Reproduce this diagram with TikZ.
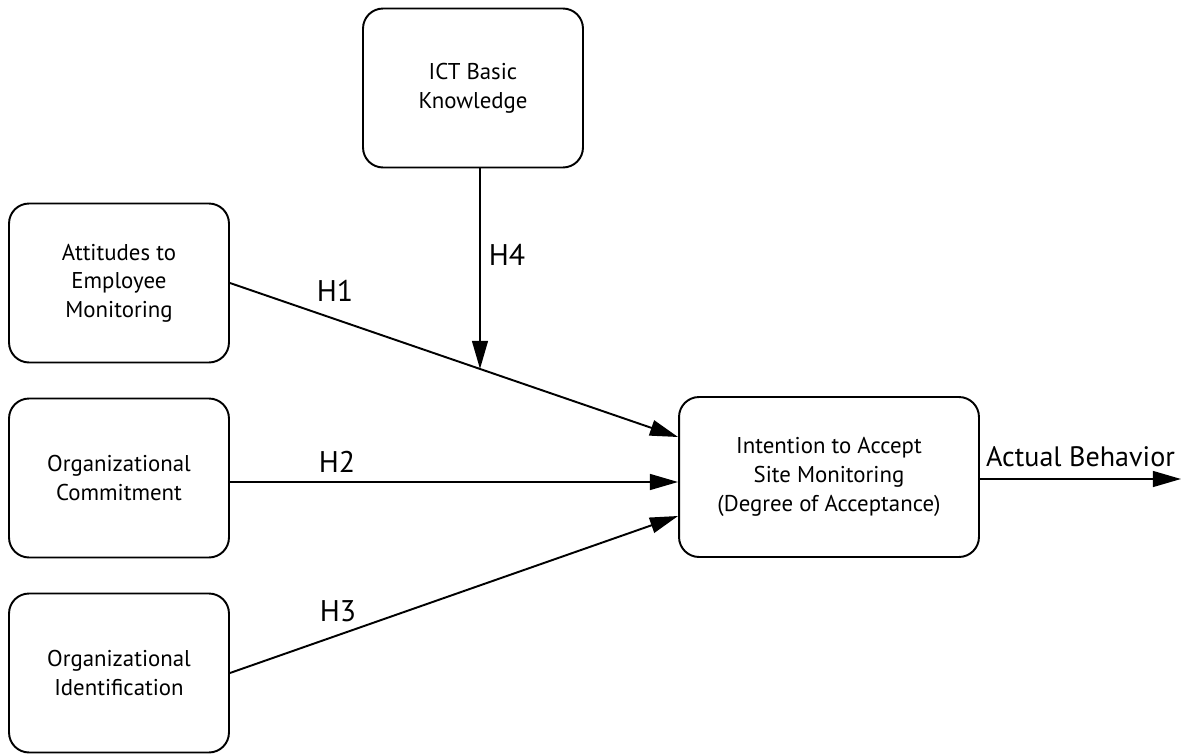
\documentclass[tikz,border=0pt]{standalone}
\usepackage{fontspec}
\setmainfont{PT Sans}
\usepackage{tikz}
\usetikzlibrary{arrows.meta, positioning}

\begin{document}
\begin{tikzpicture}[
    x=0.02cm, y=-0.02cm,
    construct/.style = {rectangle, rounded corners=0.4cm, draw=black, line width=1.1pt,
                        minimum width=4.4cm, minimum height=3.18cm, align=center,
                        font=\fontsize{13}{16.3}\selectfont},
    outcome/.style   = {construct, minimum width=6cm, minimum height=3.2cm},
    hyp/.style       = {font=\fontsize{17}{20}\selectfont},
    arr/.style       = {-{Triangle[length=16pt, width=9pt]}, line width=1.1pt}
  ]

  \useasboundingbox (0,0) rectangle (1181,754);

  % ── Constructs ─────────────────────────────────────────────────────────────
  \node[construct] (ict)    at (473,  88) {ICT Basic\\Knowledge};
  \node[construct] (attit)  at (119, 283) {Attitudes to\\Employee\\Monitoring};
  \node[construct] (commit) at (119, 478) {Organizational\\Commitment};
  \node[construct] (ident)  at (119, 673) {Organizational\\Identification};
  \node[outcome]   (intent) at (829, 477) {Intention to Accept\\Site Monitoring\\(Degree of Acceptance)};

  \coordinate (behav) at (1181, 479);

  % ── Hypothesis arrows ──────────────────────────────────────────────────────
  \draw[arr] (attit.east) -- coordinate[pos=0.558] (modpt) ([yshift=0.8cm]intent.west);
  \draw[arr] ([yshift=-0.08cm]commit.east) -- ([yshift=-0.08cm]commit.east -| intent.west);
  \draw[arr] (ident.east) -- ([yshift=-0.78cm]intent.west);
  \draw[arr] (ict.south -| modpt) -- (modpt);
  \draw[arr] (intent.east |- behav) -- node[above=3pt, font=\fontsize{16}{19}\selectfont]{Actual Behavior} (behav);

  % ── Labels ─────────────────────────────────────────────────────────────────
  \node[hyp] (h1) at (335, 291) {H1};
  \node[hyp] (h2) at (337, 462) {H2};
  \node[hyp] (h3) at (338, 611) {H3};
  \node[hyp] (h4) at (507, 255) {H4};

\end{tikzpicture}
\end{document}
